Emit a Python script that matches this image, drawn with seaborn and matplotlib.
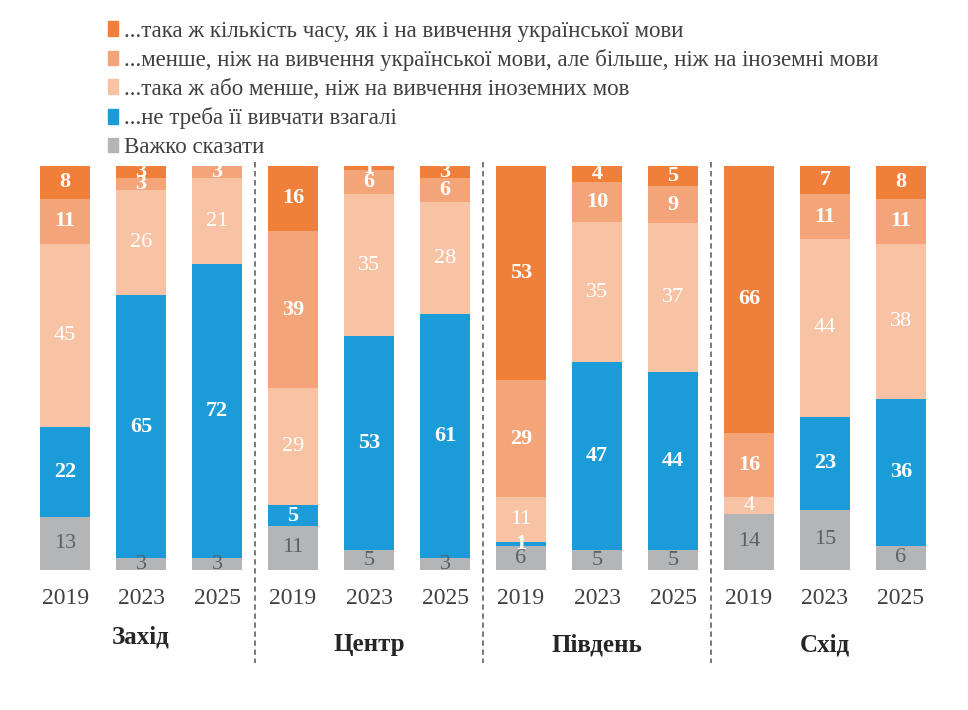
import pandas as pd
import seaborn as sns
import matplotlib.pyplot as plt
import numpy as np
from matplotlib.patches import Patch
import matplotlib.transforms as mtransforms

# Data: 4 regions x 3 waves, stacked from bottom (hard to say) to top
regions = ['Захід', 'Центр', 'Південь', 'Схід']
years = ['2019', '2023', '2025']
hard_to_say = [13, 3, 3, 11, 5, 3, 6, 5, 5, 14, 15, 6]
not_needed = [22, 65, 72, 5, 53, 61, 1, 47, 44, 0, 23, 36]
same_or_less_foreign = [45, 26, 21, 29, 35, 28, 11, 35, 37, 4, 44, 38]
less_than_ukr = [11, 3, 3, 39, 6, 6, 29, 10, 9, 16, 11, 11]
same_as_ukr = [8, 3, 0, 16, 1, 3, 53, 4, 5, 66, 7, 8]

series_names = ['Важко сказати',
                '...не треба її вивчати взагалі',
                '...така ж або менше, ніж на вивчення іноземних мов',
                '...менше, ніж на вивчення української мови, але більше, ніж на іноземні мови',
                '...така ж кількість часу, як і на вивчення української мови']
series = [hard_to_say, not_needed, same_or_less_foreign, less_than_ukr, same_as_ukr]
colors = ['#b3b5b7', '#1b9cd8', '#f8c3a5', '#f4a479', '#f07f3a']
label_colors = ['#5f5f5f', 'white', 'white', 'white', 'white']
label_weights = ['normal', 'bold', 'normal', 'bold', 'bold']

bar_ids = [f'{r}_{y}' for r in regions for y in years]
vals = np.array(series, dtype=float)
totals = vals.sum(axis=0)
norm = vals / totals * 100  # bars are drawn as 100% stacks

plt.rcParams['font.family'] = ['Liberation Serif', 'DejaVu Serif']

fig = plt.figure(figsize=(9.68, 7.1), dpi=100)
ax = fig.add_axes([0.028, 0.197, 0.942, 0.569])

bottom = np.zeros(len(bar_ids))
for i, name in enumerate(series_names):
    sns.barplot(x=bar_ids, y=norm[i], bottom=bottom, color=colors[i],
                width=0.66, ax=ax, order=bar_ids, saturation=1)
    for j in range(len(bar_ids)):
        if vals[i, j] > 0:
            ax.text(j, bottom[j] + norm[i, j] / 2, f'{int(vals[i, j])}',
                    ha='center', va='center', fontsize=16,
                    color=label_colors[i], fontweight=label_weights[i])
    bottom = bottom + norm[i]

ax.set_xlim(-0.5, len(bar_ids) - 0.5)
ax.set_ylim(0, 100)
ax.axis('off')

# year labels and region names
for j, bid in enumerate(bar_ids):
    ax.text(j, -7, bid.split('_')[1], ha='center', va='center',
            fontsize=17, color='#404040')
for k, r in enumerate(regions):
    ax.text(3 * k + 1, -16.5 if k == 0 else -18.5, r, ha='center', va='center',
            fontsize=18, fontweight='bold', color='#262626')

# dashed separators between regions
trans = mtransforms.blended_transform_factory(ax.transData, ax.transAxes)
for k in range(1, 4):
    ax.plot([3 * k - 0.5, 3 * k - 0.5], [1.01, -0.23], transform=trans,
            color='#707070', ls=(0, (3, 2)), lw=1.3, clip_on=False)

# legend, top to bottom
handles = [Patch(color=colors[i], label=series_names[i]) for i in range(4, -1, -1)]
fig.legend(handles=handles, loc='upper left', bbox_to_anchor=(0.09, 1.0),
           frameon=False, fontsize=16.5, handlelength=0.45, handleheight=0.6,
           handletextpad=0.25, labelspacing=0.33, labelcolor='#404040')

fig.savefig('out.png', dpi=100)
